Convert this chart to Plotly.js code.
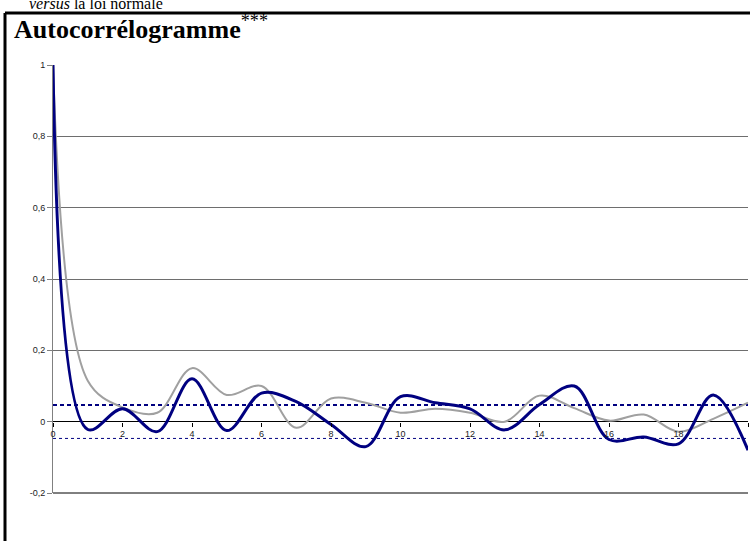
<!DOCTYPE html>
<html>
<head>
<meta charset="utf-8">
<script src="https://cdn.plot.ly/plotly-3.0.1.min.js"></script>
<style>html,body{margin:0;padding:0;background:#fff;}#chart{width:753px;height:541px;}</style>
</head>
<body>
<div id="chart"></div>
<script>
// Data
const lags = [0,1,2,3,4,5,6,7,8,9,10,11,12,13,14,15,16,17,18,19,20];
const acfSeries = [1,-0.022,0.036,-0.028,0.12,-0.025,0.08,0.056,-0.008,-0.07,0.07,0.053,0.036,-0.023,0.048,0.10,-0.05,-0.043,-0.062,0.075,-0.08];
const normalSeries = [1,0.115,0.04,0.025,0.15,0.075,0.1,-0.017,0.065,0.053,0.025,0.036,0.025,0.0,0.073,0.038,0.003,0.02,-0.028,0.008,0.053];
const confBound = 0.047;
const boundX = [0,20];
const xTicks = [0,2,4,6,8,10,12,14,16,18,20];
const yTicks = [-0.2,0,0.2,0.4,0.6,0.8,1];
const yTickText = ['-0,2','0','0,2','0,4','0,6','0,8','1'];

const traces = [
  {x: boundX, y: [confBound, confBound], mode:'lines', line:{color:'#000080', width:2, dash:'4px,3px'}, hoverinfo:'skip'},
  {x: boundX, y: [-confBound, -confBound], mode:'lines', line:{color:'#000080', width:1, dash:'3px,3px'}, hoverinfo:'skip'},
  {x: lags, y: normalSeries, mode:'lines', line:{color:'#a0a0a0', width:2, shape:'spline', smoothing:1}},
  {x: lags, y: acfSeries, mode:'lines', line:{color:'#000080', width:3, shape:'spline', smoothing:1}}
];

const layout = {
  width: 753, height: 541,
  margin: {l:53, r:5, t:65, b:48},
  paper_bgcolor:'#ffffff', plot_bgcolor:'#ffffff',
  showlegend:false,
  hovermode:false,
  title: {
    text: '<b>Autocorrélogramme</b><sup>***</sup>',
    font: {family:'Liberation Serif, Times New Roman, serif', size:26, color:'#000'},
    xref:'container', yref:'container', x: 14/753, xanchor:'left', y: 1-29/541, yanchor:'middle'
  },
  xaxis: {
    range:[0,20], anchor:'free', position: 1/6,
    tickvals: xTicks, ticks:'outside', ticklen:4, tickcolor:'#000', tickwidth:1,
    showgrid:false, zeroline:false, showline:false,
    tickfont:{family:'Liberation Sans, Arial, sans-serif', size:9, color:'#222'}
  },
  yaxis: {
    range:[-0.2,1], tickvals: yTicks, ticktext: yTickText,
    ticks:'outside', ticklen:5, tickcolor:'#808080',
    showline:true, linecolor:'#808080', linewidth:1,
    showgrid:true, gridcolor:'#6e6e6e', gridwidth:1,
    zeroline:true, zerolinecolor:'#000', zerolinewidth:1,
    tickfont:{family:'Liberation Sans, Arial, sans-serif', size:9, color:'#222'}
  },
  shapes: [
    {type:'line', xref:'paper', yref:'paper', x0:0, x1:1, y0:0, y1:0, line:{color:'#000', width:1}},
    {type:'line', xref:'paper', yref:'paper', x0:(5-53)/695, x1:(5-53)/695, y0:(493-13)/428, y1:(493-545)/428, line:{color:'#000', width:3}},
    {type:'line', xref:'paper', yref:'paper', x0:(5-53)/695, x1:(750-53)/695, y0:(493-13)/428, y1:(493-13)/428, line:{color:'#000', width:3}}
  ],
  annotations: [
    {text:'<i>versus</i> la loi normale', xref:'paper', yref:'paper', x:(27-53)/695, xanchor:'left', y:(493-4)/428, yanchor:'middle', showarrow:false,
     font:{family:'Liberation Serif, Times New Roman, serif', size:16, color:'#000'}}
  ]
};

Plotly.newPlot('chart', traces, layout, {displayModeBar:false, staticPlot:true});
</script>
</body>
</html>
